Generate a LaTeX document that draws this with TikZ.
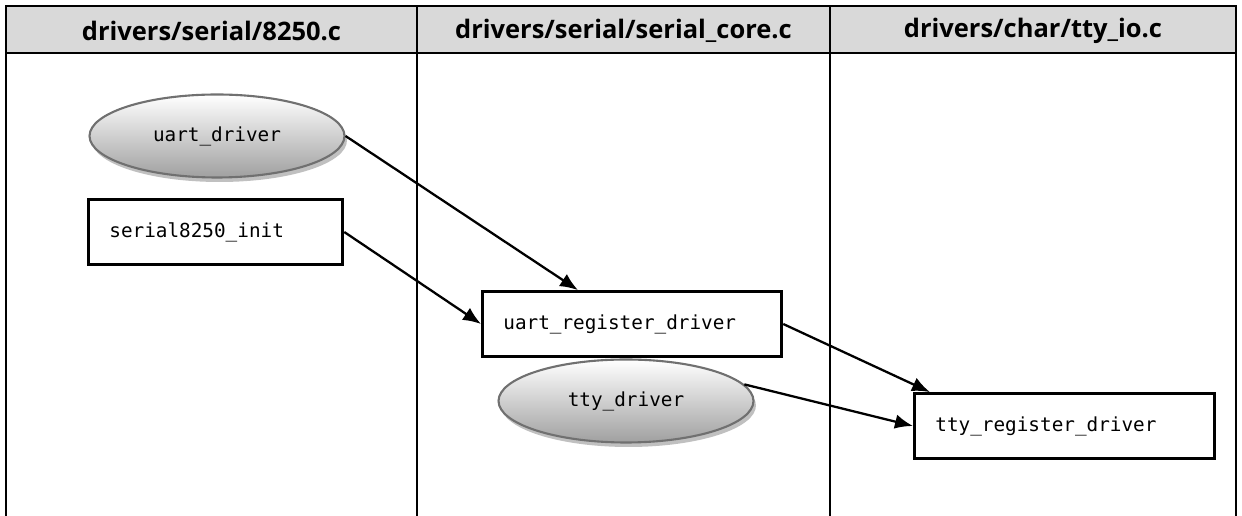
\documentclass[tikz,border=0pt]{standalone}
\usepackage{fontspec}
\setmainfont{Open Sans}
\newfontfamily\codefont{DejaVu Sans Mono}
\usetikzlibrary{shapes.geometric,shadows,arrows.meta}
\definecolor{headgray}{RGB}{217,217,217}
\definecolor{rimgray}{RGB}{112,112,112}
\definecolor{shadegray}{RGB}{160,160,160}

\tikzset{
  fnbox/.style={draw, line width=1.6pt, fill=white, inner xsep=0.42cm, minimum height=1.3cm,
    font=\codefont\fontsize{11}{13}\selectfont, align=left, anchor=west},
  structell/.style={ellipse, draw=rimgray, line width=1.2pt, top color=white, bottom color=shadegray,
    minimum width=5.1cm, minimum height=1.66cm, font=\codefont\fontsize{11}{13}\selectfont,
    drop shadow={shadow xshift=0.05cm, shadow yshift=-0.09cm, fill=black!45, opacity=0.55}},
  call/.style={-{Latex[length=3.6mm,width=2.9mm]}, line width=1.3pt},
  coltitle/.style={font=\bfseries\fontsize{14.5}{16}\selectfont}
}

\begin{document}
\begin{tikzpicture}[x=0.02cm, y=-0.02cm]
\useasboundingbox (0,0) rectangle (1242,516);

% table frame
\draw [fill=headgray, line width=1.6pt] (6,6) rectangle (1236,53);
\draw [line width=1.6pt] (6,6) -- (6,516);
\draw [line width=1.6pt] (1236,6) -- (1236,516);
\draw [line width=1.1pt] (417,6) -- (417,516);
\draw [line width=1.1pt] (830,6) -- (830,516);

\node [coltitle] (col1) at (211.5,31) {drivers/serial/8250.c};
\node [coltitle] (col2) at (623.5,31) {drivers/serial/serial\_core.c};
\node [coltitle] (col3) at (1033,31) {drivers/char/tty\_io.c};

% structures and functions
\node [structell] (uartdrv) at (217,136) {uart\_driver};
\node [fnbox, text width=4.25cm] (s8250init) at (87,232) {serial8250\_init};
\node [fnbox, text width=5.15cm] (uartreg) at (481,324) {uart\_register\_driver};
\node [structell] (ttydrv) at (626,401) {tty\_driver};
\node [fnbox, text width=5.17cm] (ttyreg) at (913,426) {tty\_register\_driver};

% calls
\draw [call] (uartdrv.east) -- ([xshift=1.94cm]uartreg.north west);
\draw [call] (s8250init.east) -- (uartreg.west);
\draw [call] (uartreg.east) -- ([xshift=0.34cm]ttyreg.north west);
\draw [call] (ttydrv.8) -- (ttyreg.west);

\end{tikzpicture}
\end{document}
